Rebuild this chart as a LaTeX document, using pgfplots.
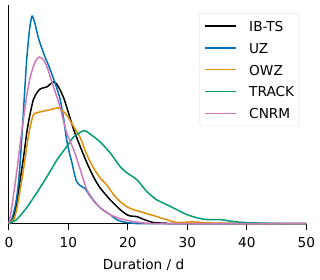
\documentclass[border=0pt]{standalone}
\usepackage{pgfplots}
\pgfplotsset{compat=1.18}
\usepackage{fontspec}
\setmainfont{DejaVu Sans}
\definecolor{cbblue}{HTML}{0173B2}
\definecolor{cborange}{HTML}{DE8F05}
\definecolor{cbgreen}{HTML}{029E73}
\definecolor{cbpink}{HTML}{CC78BC}
\begin{document}
\fontsize{13.7pt}{16pt}\selectfont
\begin{tikzpicture}
\begin{axis}[
  scale only axis,
  width=298pt, height=219pt,
  xmin=0, xmax=50, ymin=0, ymax=219,
  axis lines*=left,
  axis line style={line width=1.1pt},
  xtick={0,10,20,30,40,50},
  ytick=\empty,
  tick align=outside,
  major tick length=6.5pt,
  tick style={line width=1.1pt, black},
  /pgf/number format/assume math mode=true,
  xticklabel style={font=\fontsize{13.7pt}{16pt}\selectfont, yshift=-3pt},
  xlabel={Duration / d},
  xlabel style={font=\fontsize{13.7pt}{16pt}\selectfont, xshift=-14pt, yshift=-2pt},
  legend cell align=left,
  legend style={at={(0.9765,0.962)}, anchor=north east, draw=black!15, rounded corners=2pt,
    inner xsep=5pt, inner ysep=1.6pt, column sep=12.3pt,
    font=\fontsize{13.7pt}{16pt}\selectfont,
    nodes={inner sep=0pt, text height=16.3pt, text depth=5.6pt}},
  legend image code/.code={\draw[#1] (0pt,0pt) -- (31pt,0pt);},
  every axis plot/.append style={line width=1.5pt, line join=round, smooth, tension=0.4},
  clip=false,
]
\addplot[black] coordinates {(0,0) (0.8,7) (1.3,20) (1.9,44) (2.5,68) (3,91) (3.5,108) (4.1,124) (4.7,131) (5.3,135) (6.4,137) (7.0,140) (7.5,142) (8.0,140) (8.6,134) (9.2,126) (9.7,117) (10.9,94) (12,77) (13.1,61) (14.2,47) (15.3,36) (17,24) (18.7,14) (19.8,9) (20.5,7.5) (21.5,7) (22.3,5) (23.2,3) (24.3,1) (26.5,0.3) (28,0) (50,0)};
\addlegendentry{IB-TS}
\addplot[cbblue] coordinates {(0,0) (0.4,3) (0.8,11) (1.2,22) (1.6,40) (2.0,70) (2.5,118) (3.0,165) (3.5,196) (3.9,208) (4.4,200) (5.0,185) (6.0,168) (6.9,155) (7.8,140) (8.6,125) (9.2,105) (9.7,84) (10.2,70) (10.6,61) (11.0,50) (11.4,42) (12.0,38) (12.8,35) (13.6,28) (14.5,21) (15.3,16) (16.2,12) (17,9) (18.1,4) (19,2) (19.8,1) (21,0.3) (23,0) (50,0)};
\addlegendentry{UZ}
\addplot[cborange] coordinates {(0,0) (0.8,4) (1.3,14) (1.9,34) (2.5,56) (3,77) (3.5,95) (4.1,109) (4.7,111) (5.3,112) (6.9,114) (8.3,116) (9.0,113) (9.7,109) (10.9,97) (12,86) (13.1,69) (14.2,56) (15.3,46) (16.4,39) (17.6,29) (18.7,22) (19.8,17) (20.9,14) (23.2,10) (25.4,6) (27.6,2) (28.7,1) (31,1.7) (33.2,0.7) (36.6,0.3) (39,0) (50,0)};
\addlegendentry{OWZ}
\addplot[cbgreen] coordinates {(0,0) (1.3,4) (3,16) (4.7,31) (6.4,47) (8.1,64) (9.7,77) (10.9,87) (12.2,92) (12.8,93) (13.6,90) (15.3,82) (17,71) (18.7,57) (19.8,51) (21.5,44) (23.2,32) (24.8,24) (26.5,19) (28.2,14) (29.9,9) (31.5,6) (33.2,4) (35.5,4) (37.7,2) (39.9,1) (43.3,0.3) (46,0) (50,0)};
\addlegendentry{TRACK}
\addplot[cbpink] coordinates {(0,0) (0.5,17) (1.3,51) (2.0,85) (2.5,107) (3.0,128) (3.6,147) (4.4,162) (5.1,167) (5.8,164) (6.4,157) (7.5,137) (8.6,117) (9.7,91) (10.9,74) (12,54) (13.1,34) (14.2,24) (15.3,16) (17,9) (18.7,5) (20.9,2) (23.2,0.3) (26,0) (50,0)};
\addlegendentry{CNRM}
\end{axis}
\path (-8.3pt,-56pt) rectangle (311.7pt,224pt);
\end{tikzpicture}
\end{document}
